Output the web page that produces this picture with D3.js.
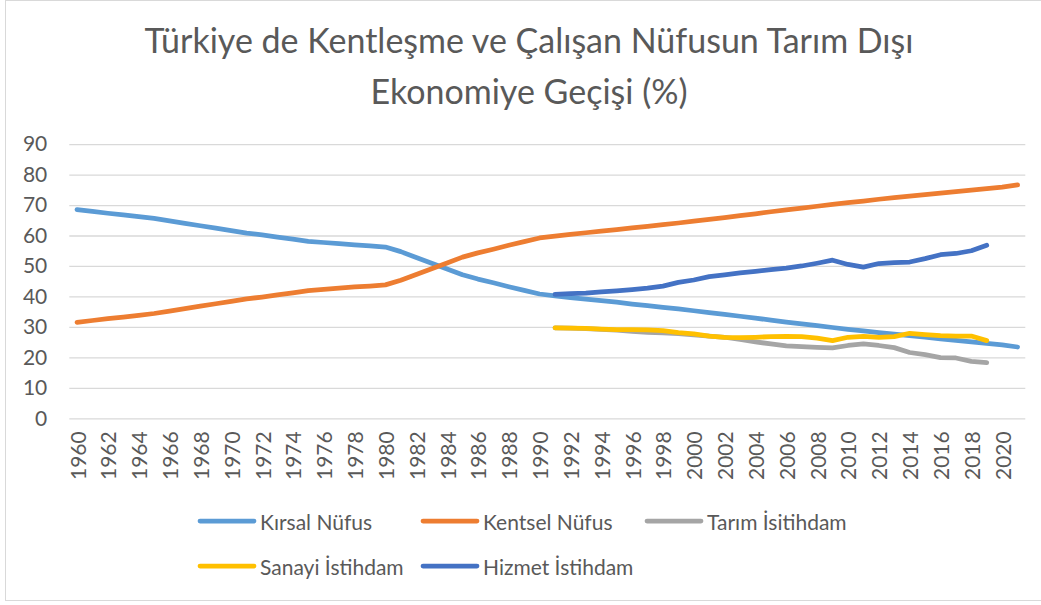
<!DOCTYPE html>
<html>
<head>
<meta charset="utf-8">
<script src="https://cdn.jsdelivr.net/npm/d3@7"></script>
<style>
  body { margin: 0; background: #fff; }
  svg { display: block; font-family: Lato, "Open Sans", sans-serif; }
</style>
</head>
<body>
<svg id="chart" width="1041" height="605"></svg>
<script>

// years on the category axis
const years = d3.range(1960, 2022);
const empYears = d3.range(1991, 2020);

// Kentsel Nüfus (% of population), 1960-2021
const kentsel = [31.5, 32.1, 32.7, 33.2, 33.8, 34.4, 35.2, 36.0, 36.8, 37.6,
  38.4, 39.2, 39.8, 40.5, 41.2, 41.9, 42.3, 42.7, 43.1, 43.4,
  43.8, 45.3, 47.2, 49.1, 51.0, 52.9, 54.3, 55.5, 56.8, 58.0,
  59.2, 59.8, 60.4, 60.9, 61.4, 61.9, 62.5, 63.0, 63.6, 64.1,
  64.7, 65.3, 65.9, 66.5, 67.1, 67.8, 68.4, 69.0, 69.6, 70.2,
  70.8, 71.3, 71.9, 72.4, 72.9, 73.4, 73.9, 74.4, 74.9, 75.4,
  75.9, 76.6];
// Kırsal Nüfus
const kirsal = kentsel.map(v => +(100 - v).toFixed(1));

// employment shares 1991-2019
const tarim = [29.7, 29.6, 29.4, 29.2, 28.9, 28.5, 28.2, 28.0, 27.8, 27.4,
  27.0, 26.6, 25.9, 25.1, 24.4, 23.8, 23.5, 23.3, 23.1, 23.9,
  24.4, 23.9, 23.2, 21.6, 20.9, 19.9, 19.8, 18.7, 18.3];
const sanayi = [29.7, 29.6, 29.5, 29.3, 29.1, 29.1, 29.0, 28.8, 28.1, 27.7,
  27.0, 26.6, 26.5, 26.6, 26.8, 26.9, 26.8, 26.3, 25.5, 26.6,
  26.9, 26.6, 26.8, 27.9, 27.5, 27.1, 27.0, 27.0, 25.5];
const hizmet = [40.7, 40.9, 41.1, 41.5, 41.8, 42.2, 42.7, 43.4, 44.6, 45.4,
  46.5, 47.1, 47.7, 48.2, 48.8, 49.3, 50.0, 50.9, 51.9, 50.5,
  49.6, 50.8, 51.1, 51.3, 52.4, 53.7, 54.1, 55.0, 56.8];

const yTicks = d3.range(0, 100, 10);
const xTicks = years.filter(y => y % 2 === 0);

const series = [
  { name: 'Kırsal Nüfus', color: '#5B9BD5', x: years, v: kirsal },
  { name: 'Kentsel Nüfus', color: '#ED7D31', x: years, v: kentsel },
  { name: 'Tarım İsitihdam', color: '#A5A5A5', x: empYears, v: tarim },
  { name: 'Sanayi İstihdam', color: '#FFC000', x: empYears, v: sanayi },
  { name: 'Hizmet İstihdam', color: '#4472C4', x: empYears, v: hizmet }
];

const svg = d3.select('#chart');
const textColor = '#595959';

// chart frame
svg.append('rect')
  .attr('x', 5.5).attr('y', 0.5).attr('width', 1040).attr('height', 600)
  .attr('fill', 'none').attr('stroke', '#d9d9d9');

const x = d3.scaleBand().domain(years).range([69.3, 1025.3]);
const y = d3.scaleLinear().domain([0, 90]).range([418.3, 144.1]);
const cx = d => x(d) + x.bandwidth() / 2;

// title
const title = svg.append('text')
  .attr('text-anchor', 'middle')
  .attr('fill', textColor)
  .style('font-size', '34px');
title.append('tspan').attr('x', 529).attr('y', 53).text('Türkiye de Kentleşme ve Çalışan Nüfusun Tarım Dışı');
title.append('tspan').attr('x', 529).attr('y', 104).text('Ekonomiye Geçişi (%)');

// gridlines + y labels
const yAxis = d3.axisLeft(y).tickValues(yTicks).tickSize(-(x.range()[1] - x.range()[0])).tickPadding(22);
const gy = svg.append('g').attr('transform', `translate(${x.range()[0]},0)`).call(yAxis);
gy.select('.domain').remove();
gy.selectAll('.tick line').attr('stroke', '#d9d9d9').attr('stroke-width', 1.3);
gy.selectAll('.tick text').attr('fill', textColor).style('font-size', '21px').style('font-family', 'Lato');

// x labels
const xAxis = d3.axisBottom(x).tickValues(xTicks).tickSize(0).tickPadding(0);
const gx = svg.append('g').attr('transform', `translate(0,${y(0)})`).call(xAxis);
gx.select('.domain').remove();
gx.selectAll('.tick text')
  .attr('fill', textColor)
  .style('font-size', '21px').style('font-family', 'Lato')
  .attr('text-anchor', 'end')
  .attr('dy', null)
  .attr('dominant-baseline', 'central')
  .attr('transform', 'translate(0,13) rotate(-90)');

// lines
const line = d3.line().x(d => cx(d[0])).y(d => y(d[1]));
series.forEach(s => {
  svg.append('path')
    .datum(s.x.map((yr, i) => [yr, s.v[i]]))
    .attr('d', line)
    .attr('fill', 'none')
    .attr('stroke', s.color)
    .attr('stroke-width', 4.75)
    .attr('stroke-linejoin', 'round')
    .attr('stroke-linecap', 'round');
});

// legend
const legendPos = [[200, 521], [423, 521], [647, 521], [200, 566], [423, 566]];
series.forEach((s, i) => {
  const [lx, ly] = legendPos[i];
  const g = svg.append('g').attr('transform', `translate(${lx},${ly})`);
  g.append('line').attr('x1', 0).attr('x2', 54).attr('y1', 0).attr('y2', 0)
    .attr('stroke', s.color).attr('stroke-width', 4.75).attr('stroke-linecap', 'round');
  g.append('text').attr('x', 60).attr('y', 0).attr('dominant-baseline', 'central')
    .attr('fill', textColor).style('font-size', '21px').text(s.name);
});

</script>
</body>
</html>
